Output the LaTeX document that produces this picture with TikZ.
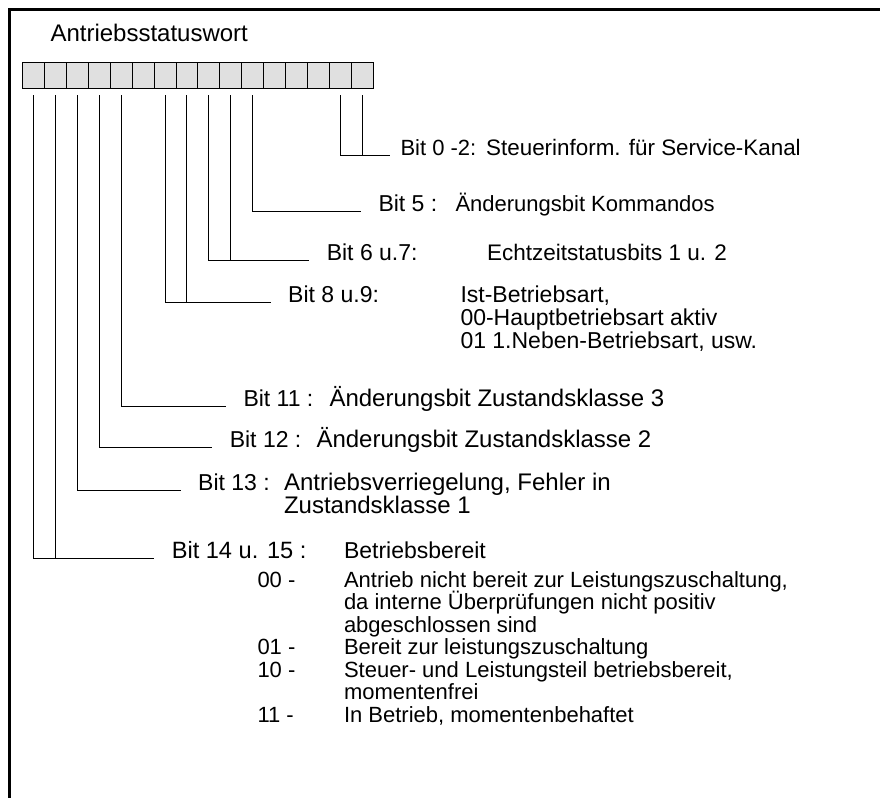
\documentclass[tikz,border=0pt]{standalone}
\usepackage{fontspec}
\setmainfont{Liberation Sans}
\usepackage{tikz}
\lineskiplimit=-10pt

\begin{document}
\begin{tikzpicture}[x=0.5pt, y=-0.5pt, line width=0.5pt,
    font=\fontsize{11.5}{11.5}\selectfont,
    frame/.style = {line width=1.5pt},
    bitbox/.style = {draw, fill=black!12, minimum width=10.95pt, minimum height=13pt, inner sep=0pt, outer sep=3.5pt},
    bitlbl/.style = {anchor=base west, inner xsep=8.5pt, inner ysep=0pt},
    desc/.style = {anchor=base west, inner sep=0pt, align=left},
    small/.style = {font=\fontsize{11}{11.25}\selectfont},
    large/.style = {font=\fontsize{12}{11.5}\selectfont}]
    \useasboundingbox (0,0) rectangle (880,798);
    \draw[frame] (880,9) -| (9,798);
    \node[anchor=base west, inner sep=0pt, font=\fontsize{12}{12}\selectfont] (title) at (50,41.7) {Antriebsstatuswort};
    \foreach \b in {0,...,15}
        \node[bitbox] (b\b) at ({362.15-21.9*\b},75) {};

    % last line of a multi-line text sits on the given point
    \node[bitlbl, small, inner xsep=5pt] (l0) at (390,155.7) {Bit 0 -2:};
    \node[desc, font=\fontsize{11.2}{11.2}\selectfont] (d0) at (485.7,155.7) {Steuerinform. für Service-Kanal};
    \node[bitlbl] (l5) at (361,211.7) {Bit 5 :};
    \node[desc, small] (d5) at (455,211.7) {Änderungsbit Kommandos};
    \node[bitlbl] (l6) at (309.3,260) {Bit 6 u.7:};
    \node[desc, font=\fontsize{11.25}{11.25}\selectfont] (d6) at (486.7,260) {Echtzeitstatusbits 1 u. 2};
    \node[bitlbl] (l8) at (270.7,302.3) {Bit 8 u.9:};
    \node[desc] (d8) at (460,348.3) {Ist-Betriebsart,\\00-Hauptbetriebsart aktiv\\01 1.Neben-Betriebsart, usw.};
    \node[bitlbl] (l11) at (226,406) {Bit 11 :};
    \node[desc, large] (d11) at (329,406) {Änderungsbit Zustandsklasse 3};
    \node[bitlbl] (l12) at (212.3,447.7) {Bit 12 :};
    \node[desc, large] (d12) at (316,447.7) {Änderungsbit Zustandsklasse 2};
    \node[bitlbl] (l13) at (180.7,490) {Bit 13 :};
    \node[desc, large] (d13) at (283.5,513) {Antriebsverriegelung, Fehler in\\Zustandsklasse 1};
    \node[bitlbl, font=\fontsize{11.8}{11.8}\selectfont] (l14) at (154.3,558.3) {Bit 14 u. 15 :};
    \node[desc] (d14) at (343.5,558.3) {Betriebsbereit};
    \node[desc, small] (c00) at (257,587) {00 -};
    \node[desc, small] (c01) at (257,654.5) {01 -};
    \node[desc, small] (c10) at (257,677) {10 -};
    \node[desc, small] (c11) at (257,722) {11 -};
    \node[desc, small] (e00) at (343.5,722) {Antrieb nicht bereit zur Leistungszuschaltung,\\da interne Überprüfungen nicht positiv\\abgeschlossen sind\\Bereit zur leistungszuschaltung\\Steuer- und Leistungsteil betriebsbereit,\\momentenfrei\\In Betrieb, momentenbehaftet};

    \draw (b1.south) |- (l0.base west);
    \draw (b0.south) -- (b0.south |- l0.base west);
    \draw (b5.south) |- (l5.base west);
    \draw (b7.south) |- (l6.base west);
    \draw (b6.south) -- (b6.south |- l6.base west);
    \draw (b9.south) |- (l8.base west);
    \draw (b8.south) -- (b8.south |- l8.base west);
    \draw (b11.south) |- (l11.base west);
    \draw (b12.south) |- (l12.base west);
    \draw (b13.south) |- (l13.base west);
    \draw (b15.south) |- (l14.base west);
    \draw (b14.south) -- (b14.south |- l14.base west);
\end{tikzpicture}
\end{document}
